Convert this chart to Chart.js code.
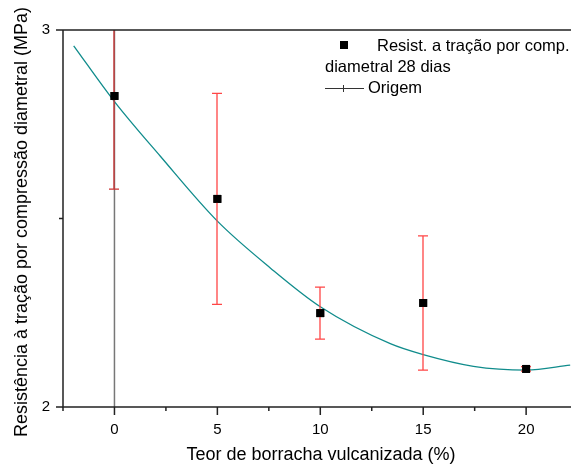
<!DOCTYPE html>
<html>
<head>
<meta charset="utf-8">
<script src="https://cdn.jsdelivr.net/npm/chart.js@4.4.1/dist/chart.umd.min.js"></script>
<style>
  html, body { margin: 0; padding: 0; background: #fff; }
  #chart { display: block; }
</style>
</head>
<body>
<canvas id="chart" width="571" height="465"></canvas>
<script>
// Data
const teor = [0, 5, 10, 15, 20];
const resist = [2.825, 2.552, 2.249, 2.276, 2.101];
const erro = [0.247, 0.28, 0.069, 0.178, 0.006];

// fitted curve, points
const ajusteX = [-1.98, 0, 2.23, 5, 7.57, 10, 13.4, 15, 17.44, 20, 22.14];
const ajusteY = [2.958, 2.810, 2.665, 2.493, 2.369, 2.266, 2.168, 2.139, 2.108, 2.098, 2.111];

// vertical line at the origin
const origemX = [0, 0];
const origemY = [2, 3];

const xTicks = [0, 5, 10, 15, 20];
const xMinor = [-2.5, 2.5, 7.5, 12.5, 17.5];
const yTicks = [2, 3];
const yMinor = [2.5];

const legendLines = ['Resist. a tração por comp.', 'diametral 28 dias', 'Origem'];
const xTitle = 'Teor de borracha vulcanizada (%)';
const yTitle = 'Resistência à tração por compressão diametral (MPa)';

const FONT = '"Liberation Sans", Arial, sans-serif';
const AXIS = '#222';

const toXY = (xs, ys) => xs.map((x, i) => ({ x: x, y: ys[i] }));

// error bars drawn through the scales
const errorBars = {
    id: 'errorBars',
    afterDatasetsDraw(chart) {
        const { ctx, chartArea, scales: { x, y } } = chart;
        ctx.save();
        ctx.beginPath();
        ctx.rect(chartArea.left, chartArea.top, chartArea.right - chartArea.left, chartArea.bottom - chartArea.top);
        ctx.clip();
        ctx.lineWidth = 1.3;
        teor.forEach((t, i) => {
            const px = Math.round(x.getPixelForValue(t));
            const top = y.getPixelForValue(resist[i] + erro[i]);
            const bot = y.getPixelForValue(resist[i] - erro[i]);
            // the bar over the origin line reads darker
            ctx.strokeStyle = t === 0 ? 'rgb(205, 50, 50)' : 'rgb(255, 70, 70)';
            ctx.beginPath();
            ctx.moveTo(px, top);
            ctx.lineTo(px, bot);
            ctx.moveTo(px - 5, top);
            ctx.lineTo(px + 5, top);
            ctx.moveTo(px - 5, bot);
            ctx.lineTo(px + 5, bot);
            ctx.stroke();
        });
        ctx.restore();
        // draw the squares again on top of the bars
        const meta = chart.getDatasetMeta(2);
        meta.data.forEach(el => el.draw(ctx, chartArea));
    }
};

// frame, tick marks, titles and legend
const decor = {
    id: 'decor',
    afterDraw(chart) {
        const { ctx, chartArea, scales: { x, y } } = chart;
        ctx.save();
        ctx.strokeStyle = AXIS;
        ctx.lineWidth = 1.5;
        ctx.beginPath();
        ctx.moveTo(chartArea.left, chartArea.top);
        ctx.lineTo(chartArea.right, chartArea.top);
        ctx.moveTo(chartArea.left, chartArea.top);
        ctx.lineTo(chartArea.left, chartArea.bottom);
        ctx.lineTo(chartArea.right, chartArea.bottom);
        ctx.stroke();

        ctx.beginPath();
        xTicks.forEach(v => {
            const px = x.getPixelForValue(v);
            ctx.moveTo(px, chartArea.bottom);
            ctx.lineTo(px, chartArea.bottom + 8);
        });
        xMinor.forEach(v => {
            const px = x.getPixelForValue(v);
            ctx.moveTo(px, chartArea.bottom);
            ctx.lineTo(px, chartArea.bottom + 4);
        });
        yTicks.forEach(v => {
            const py = y.getPixelForValue(v);
            ctx.moveTo(chartArea.left, py);
            ctx.lineTo(chartArea.left - 7, py);
        });
        yMinor.forEach(v => {
            const py = y.getPixelForValue(v);
            ctx.moveTo(chartArea.left, py);
            ctx.lineTo(chartArea.left - 4, py);
        });
        ctx.stroke();

        // axis titles
        ctx.fillStyle = '#000';
        ctx.font = '18px ' + FONT;
        ctx.textAlign = 'center';
        ctx.textBaseline = 'middle';
        ctx.fillText(xTitle, 321, 455);
        ctx.save();
        ctx.translate(22, 222);
        ctx.rotate(-Math.PI / 2);
        ctx.fillText(yTitle, 0, 0);
        ctx.restore();

        // legend
        ctx.font = '16.5px ' + FONT;
        ctx.textAlign = 'left';
        ctx.fillStyle = '#000';
        ctx.fillRect(340, 41, 8, 8);
        ctx.fillText(legendLines[0], 377, 46);
        ctx.fillText(legendLines[1], 325, 67);
        ctx.fillText(legendLines[2], 368, 88);
        ctx.strokeStyle = '#333';
        ctx.lineWidth = 1;
        ctx.beginPath();
        ctx.moveTo(325, 88.5);
        ctx.lineTo(364, 88.5);
        ctx.moveTo(343.5, 85);
        ctx.lineTo(343.5, 92);
        ctx.stroke();
        ctx.restore();
    }
};

new Chart(document.getElementById('chart'), {
    type: 'scatter',
    data: {
        datasets: [
            {
                label: 'ajuste',
                data: toXY(ajusteX, ajusteY),
                showLine: true,
                borderColor: '#108c8c',
                borderWidth: 1.3,
                pointRadius: 0,
                cubicInterpolationMode: 'monotone',
                order: 3
            },
            {
                label: 'Origem',
                data: toXY(origemX, origemY),
                showLine: true,
                borderColor: '#777',
                borderWidth: 1.5,
                pointRadius: 0,
                order: 4
            },
            {
                label: 'Resist. a tração por comp. diametral 28 dias',
                data: toXY(teor, resist),
                pointStyle: 'rect',
                pointRadius: 5.6,
                pointBackgroundColor: '#000',
                pointBorderColor: '#000',
                pointBorderWidth: 0,
                order: 1
            }
        ]
    },
    options: {
        responsive: false,
        animation: false,
        layout: { autoPadding: false, padding: { top: 30, right: 0, bottom: 0, left: 0 } },
        plugins: {
            legend: { display: false },
            tooltip: { enabled: false }
        },
        scales: {
            x: {
                type: 'linear',
                min: -2.5,
                max: 22.18,
                afterBuildTicks: s => { s.ticks = xTicks.map(v => ({ value: v })); },
                afterFit: s => { s.height = 58; s.paddingLeft = 0; s.paddingRight = 0; },
                grid: { display: false, drawTicks: false },
                border: { display: false },
                ticks: {
                    padding: 14,
                    color: '#000',
                    font: { family: FONT, size: 15 },
                    maxRotation: 0
                }
            },
            y: {
                type: 'linear',
                min: 2,
                max: 3,
                afterBuildTicks: s => { s.ticks = yTicks.map(v => ({ value: v })); },
                afterFit: s => { s.width = 63; s.paddingTop = 0; s.paddingBottom = 0; },
                grid: { display: false, drawTicks: false },
                border: { display: false },
                ticks: {
                    padding: 13,
                    color: '#000',
                    font: { family: FONT, size: 15 }
                }
            }
        }
    },
    plugins: [errorBars, decor]
});
</script>
</body>
</html>
